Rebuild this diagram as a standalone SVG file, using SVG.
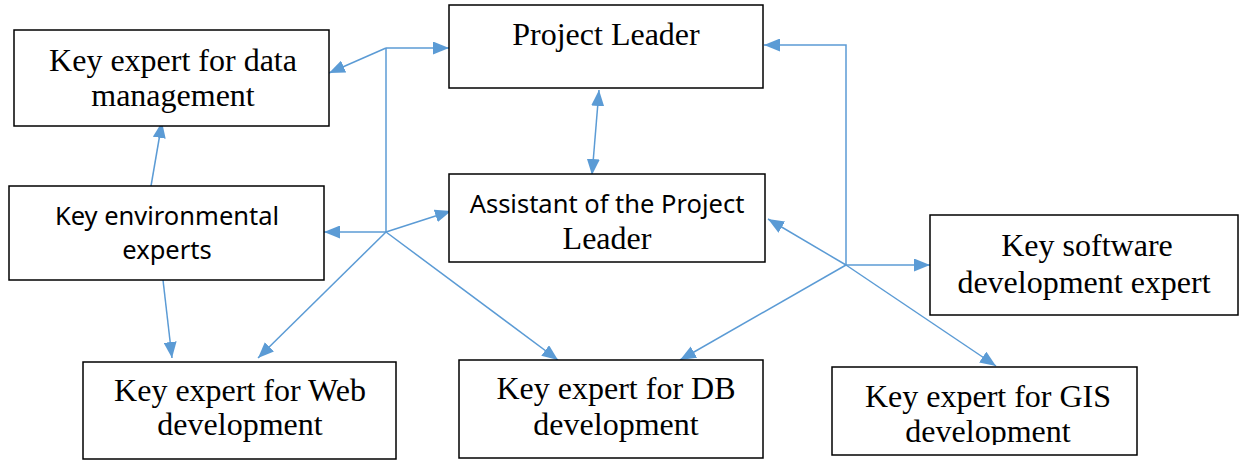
<svg xmlns="http://www.w3.org/2000/svg" width="1241" height="461" viewBox="0 0 1241 461">
<style>
.box{fill:#fff;stroke:#000;stroke-width:1.5}
.serif{font-family:"Liberation Serif","Times New Roman",serif;font-size:32px;fill:#000;text-anchor:middle}
.sans{font-family:"Noto Sans","Open Sans",sans-serif;font-size:25.5px;fill:#000;text-anchor:middle}
.c{fill:none;stroke:#5B9BD5;stroke-width:1.5}
</style>
<defs>
<marker id="ah" markerUnits="userSpaceOnUse" markerWidth="16" markerHeight="13" refX="16" refY="6.5" orient="auto-start-reverse" viewBox="0 0 16 13">
<path d="M0,0 L16,6.5 L0,13 z" fill="#5B9BD5"/>
</marker>
<clipPath id="gisclip"><rect x="832" y="367" width="306" height="78"/></clipPath>
</defs>
<rect width="1241" height="461" fill="#fff"/>
<g id="connectors">
<line class="c" x1="386" y1="48" x2="449" y2="48" marker-end="url(#ah)"/>
<line class="c" x1="386" y1="48" x2="329" y2="73" marker-end="url(#ah)"/>
<line class="c" x1="386" y1="48" x2="386" y2="232"/>
<line class="c" x1="386" y1="232" x2="324" y2="232" marker-end="url(#ah)"/>
<line class="c" x1="386" y1="232" x2="451" y2="211" marker-end="url(#ah)"/>
<line class="c" x1="386" y1="232" x2="258" y2="358" marker-end="url(#ah)"/>
<line class="c" x1="386" y1="232" x2="558" y2="360" marker-end="url(#ah)"/>
<polyline class="c" points="846,265 846,45 764,45" marker-end="url(#ah)"/>
<line class="c" x1="846" y1="265" x2="930" y2="265" marker-end="url(#ah)"/>
<line class="c" x1="846" y1="265" x2="768" y2="219" marker-end="url(#ah)"/>
<line class="c" x1="846" y1="265" x2="680" y2="360" marker-end="url(#ah)"/>
<line class="c" x1="846" y1="265" x2="996" y2="366" marker-end="url(#ah)"/>
<line class="c" x1="151" y1="186" x2="162" y2="122" marker-end="url(#ah)"/>
<line class="c" x1="163" y1="280" x2="172" y2="358" marker-end="url(#ah)"/>
<line class="c" x1="592" y1="175" x2="599" y2="90" marker-start="url(#ah)" marker-end="url(#ah)"/>
</g>
<g id="project-leader">
<rect class="box" x="449" y="5" width="314" height="83"/>
<text class="serif" x="606" y="45">Project Leader</text>
</g>
<g id="data-management">
<rect class="box" x="14" y="30" width="315" height="96"/>
<text class="serif" x="173" y="71">Key expert for data</text>
<text class="serif" x="173" y="106">management</text>
</g>
<g id="environmental">
<rect class="box" x="9" y="186" width="315" height="94"/>
<text class="sans" x="167" y="225">Key environmental</text>
<text class="sans" x="167" y="259">experts</text>
</g>
<g id="assistant">
<rect class="box" x="449" y="174" width="316" height="88"/>
<text class="sans" x="607" y="213">Assistant of the Project</text>
<text class="serif" x="607" y="249">Leader</text>
</g>
<g id="software">
<rect class="box" x="930" y="215" width="308" height="100"/>
<text class="serif" x="1087" y="256">Key software</text>
<text class="serif" x="1084" y="293">development expert</text>
</g>
<g id="web">
<rect class="box" x="83" y="362" width="313" height="97"/>
<text class="serif" x="240" y="401">Key expert for Web</text>
<text class="serif" x="240" y="435">development</text>
</g>
<g id="db">
<rect class="box" x="459" y="360" width="304" height="98"/>
<text class="serif" x="616" y="399">Key expert for DB</text>
<text class="serif" x="616" y="435">development</text>
</g>
<g id="gis">
<rect class="box" x="832" y="367" width="305" height="88"/>
<g clip-path="url(#gisclip)">
<text class="serif" x="988" y="407">Key expert for GIS</text>
<text class="serif" x="988" y="442">development</text>
</g>
</g>
</svg>
